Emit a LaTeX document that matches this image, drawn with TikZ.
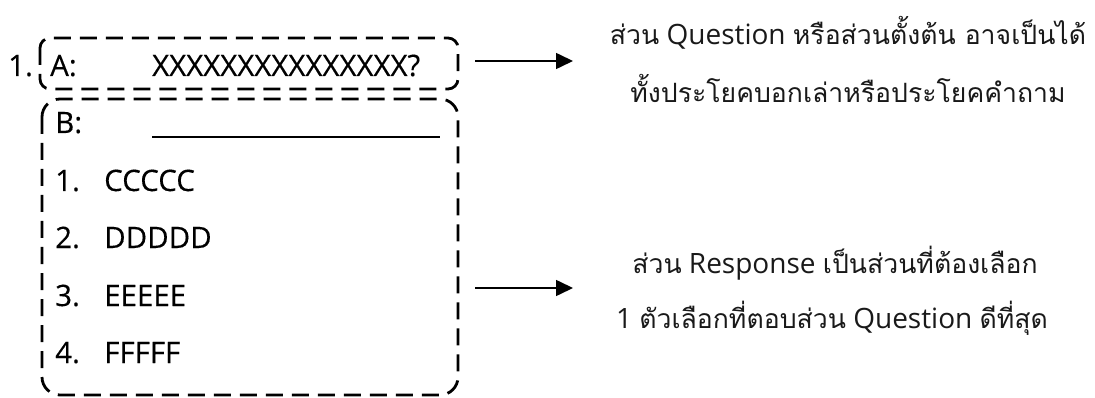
\documentclass[tikz,border=0pt]{standalone}
\usepackage{fontspec}
\setmainfont{Open Sans}
\newfontfamily\heavy[FakeBold=0.35]{Open Sans}
\newfontfamily\thai[Script=Thai,Scale=0.95]{Loma}
\usetikzlibrary{arrows.meta}
\tikzset{
  dashbox/.style={draw=black, line width=2.8pt, dash pattern=on 17pt off 9pt},
  lefttext/.style={anchor=base west, inner sep=0pt, font=\heavy\fontsize{29.5}{34}\selectfont},
  righttext/.style={anchor=base, inner sep=0pt, font=\fontsize{28}{32}\selectfont, text=black!90},
  pointer/.style={line width=1.6pt, -{Triangle[length=17pt,width=16pt]}},
}
\begin{document}
\begin{tikzpicture}[x=1pt,y=-1pt]
\useasboundingbox (0,0) rectangle (1095,398);
% boxes
\draw[dashbox, rounded corners=10pt] (40,38) rectangle (458,89);
\draw[dashbox, rounded corners=18pt] (42,99) rectangle (458,395);
% left texts
\node[lefttext] (num) at (8,76) {1.};
\node[lefttext] (A) at (50,76) {A:};
\node[lefttext] (X) at (152,76) {XXXXXXXXXXXXXXX?};
\node[lefttext] (B) at (55,133) {B:};
\coordinate (ulS) at (152,137);
\coordinate (ulE) at (440,137);
\draw[line width=1.5pt] (ulS) -- (ulE);
\node[lefttext] (n1) at (55,191) {1.};
\node[lefttext] (c1) at (104,191) {CCCCC};
\node[lefttext] (n2) at (55,248) {2.};
\node[lefttext] (c2) at (104,248) {DDDDD};
\node[lefttext] (n3) at (55,306) {3.};
\node[lefttext] (c3) at (104,306) {EEEEE};
\node[lefttext] (n4) at (55,363) {4.};
\node[lefttext] (c4) at (104,363) {FFFFF};
% arrows
\coordinate (a1s) at (475,61);
\coordinate (a1e) at (573,61);
\coordinate (a2s) at (475,288);
\coordinate (a2e) at (573,288);
\draw[pointer] (a1s) -- (a1e);
\draw[pointer] (a2s) -- (a2e);
% right texts
\node[righttext] (q1) at (848,45) {{\thai ส่วน} Question {\thai หรือส่วนตั้งต้น อาจเป็นได้}};
\node[righttext] (q2) at (848,103) {\thai ทั้งประโยคบอกเล่าหรือประโยคคำถาม};
\node[righttext] (r1) at (835,273) {{\thai ส่วน} Response {\thai เป็นส่วนที่ต้องเลือก}};
\node[righttext] (r2) at (832,328) {1 {\thai ตัวเลือกที่ตอบส่วน} Question {\thai ดีที่สุด}};
\end{tikzpicture}
\end{document}
